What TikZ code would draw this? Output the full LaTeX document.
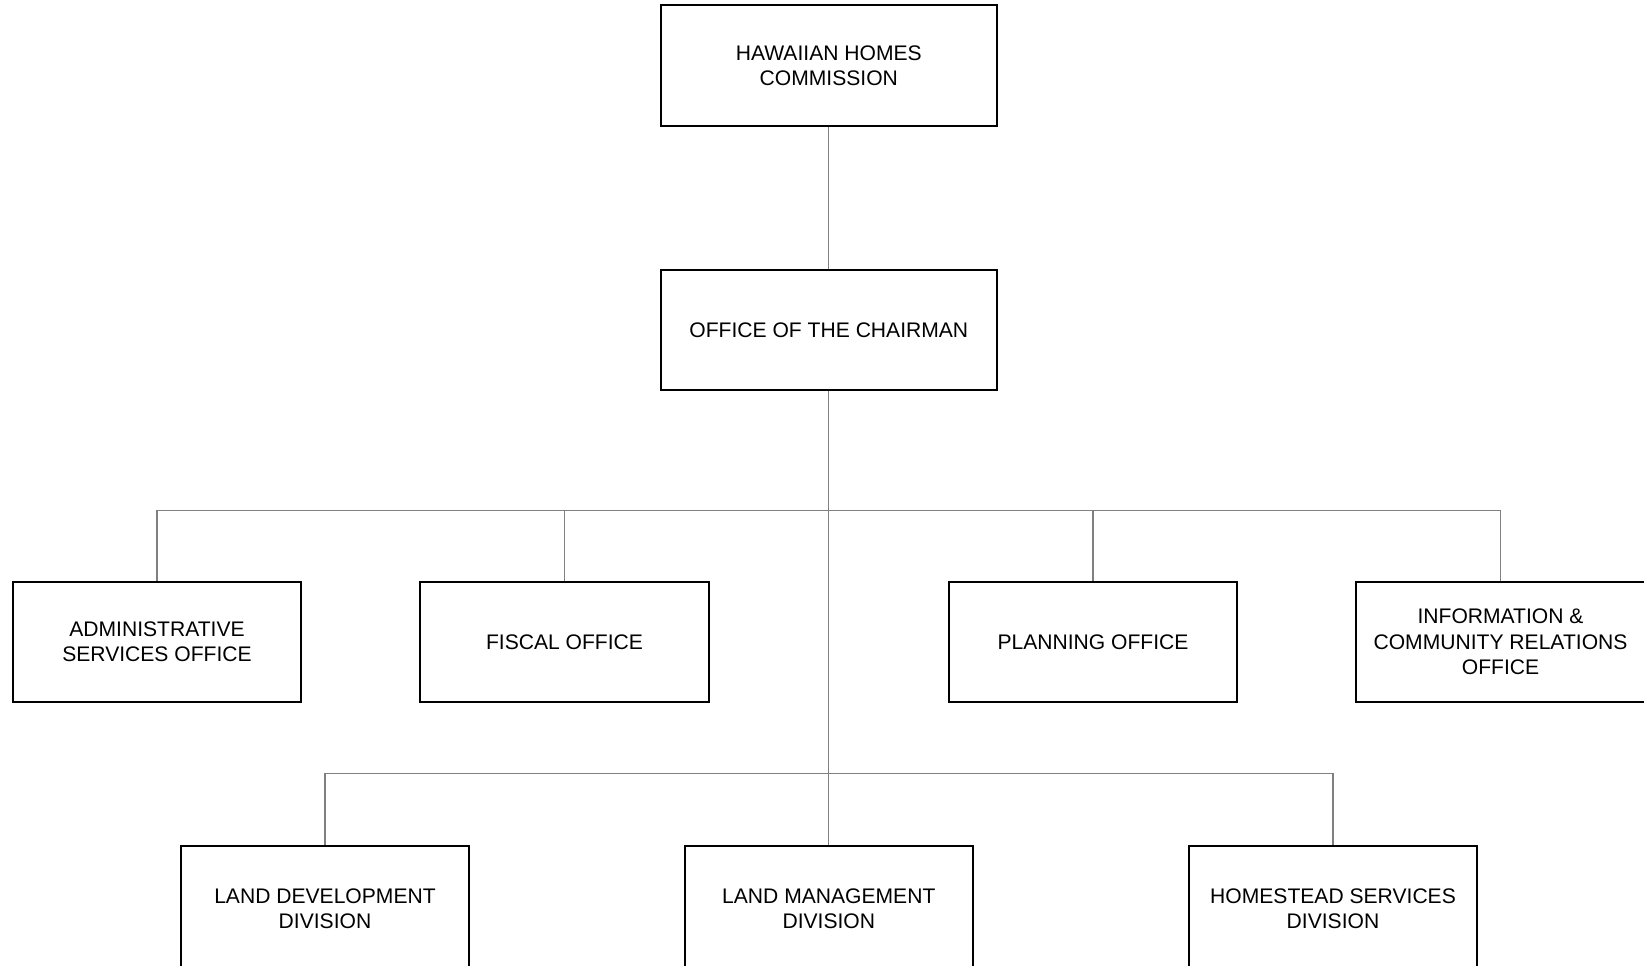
\documentclass[tikz,border=0pt]{standalone}
\usepackage{fontspec}
\setmainfont{Liberation Sans}
\usepackage{tikz}
\usetikzlibrary{calc}
\usepackage{xcolor}
\definecolor{linkgray}{HTML}{808080}
\tikzstyle{unit}=[draw=black, line width=1.1pt, rectangle, minimum width=5.77cm, minimum height=2.4cm, align=center, inner sep=0pt, font=\fontsize{12}{14.4}\selectfont]
\tikzstyle{topunit}=[unit, minimum width=6.73cm, minimum height=2.41cm]
\tikzstyle{divunit}=[unit, minimum height=2.5cm, anchor=north]
\tikzstyle{link}=[draw=linkgray, line width=0.6pt]

\begin{document}
\begin{tikzpicture}
\useasboundingbox (0,0) rectangle (32.88,-19.3);
\node[topunit] (hhc) at (16.576,-1.31) {HAWAIIAN HOMES\\COMMISSION};
\node[topunit] (chair) at (16.576,-6.596) {OFFICE OF THE CHAIRMAN};
\foreach \name/\x/\txt in {aso/3.14/{ADMINISTRATIVE\\SERVICES OFFICE}, fo/11.29/{FISCAL OFFICE}, po/21.86/{PLANNING OFFICE}, icro/30.01/{INFORMATION \&\\COMMUNITY RELATIONS\\OFFICE}} {
	\node[unit] (\name) at (\x,-12.836) {\txt};
}
% divisions run off the lower edge
\foreach \name/\x/\txt in {ldd/6.50/{LAND DEVELOPMENT\\DIVISION}, lmd/16.576/{LAND MANAGEMENT\\DIVISION}, hsd/26.66/{HOMESTEAD SERVICES\\DIVISION}} {
	\node[divunit] (\name) at (\x,-16.90) {\txt};
}
\coordinate (bus1) at (16.576,-10.212);
\coordinate (bus2) at (16.576,-15.476);
\draw[link] (hhc) -- (chair);
\draw[link] (chair) -- (lmd);
\draw[link] (aso) |- (bus1) -| (icro);
\draw[link] (fo) -- (fo |- bus1);
\draw[link] (po) -- (po |- bus1);
\draw[link] (ldd) |- (bus2) -| (hsd);
\end{tikzpicture}
\end{document}
